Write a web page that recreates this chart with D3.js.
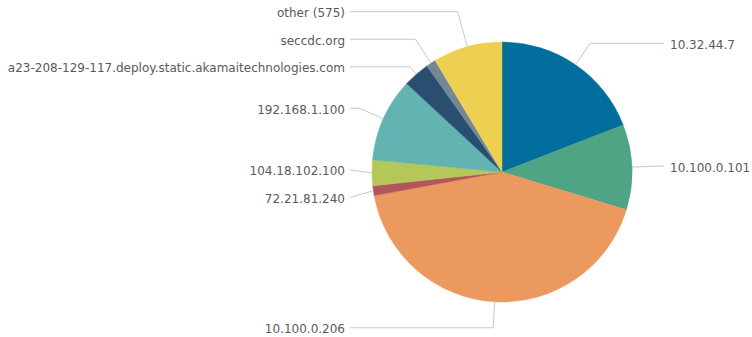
<!DOCTYPE html>
<html>
<head>
<meta charset="utf-8">
<script src="https://cdn.jsdelivr.net/npm/d3@7/dist/d3.min.js"></script>
<style>
  html, body { margin: 0; padding: 0; background: #fff; }
  svg { display: block; }
  .lbl { font-family: "DejaVu Sans", sans-serif; font-size: 12px; fill: #5a5a5a; }
  .conn { fill: none; stroke: #c8c8c8; stroke-width: 1; }
</style>
</head>
<body>
<svg id="chart" width="752" height="337"></svg>
<script>
// Share of traffic by host (percent)
const hosts = [
  "10.32.44.7",
  "10.100.0.101",
  "10.100.0.206",
  "72.21.81.240",
  "104.18.102.100",
  "192.168.1.100",
  "a23-208-129-117.deploy.static.akamaitechnologies.com",
  "seccdc.org",
  "other (575)"
];
const shares = [19.1, 10.6, 42.4, 1.2, 3.2, 10.4, 3.3, 1.2, 8.6];
const palette = ["#006d9c", "#4fa484", "#ec9960", "#af575a", "#b6c75a",
                 "#62b3b2", "#294e70", "#738795", "#edd051"];

const W = 752, H = 337;
const cx = 502, cy = 172, R = 130;
const labelR = 156;        // radius used for a label's natural height
const minGap = 27.5;       // vertical room needed per label
const leftTextX = cx - 157, leftLineX = leftTextX + 5;
const rightTextX = cx + 168, rightLineX = rightTextX - 6;

const svg = d3.select("#chart");
const rows = hosts.map((h, i) => ({ host: h, value: shares[i], color: palette[i] }));

const pie = d3.pie().value(d => d.value).sort(null).startAngle(0).endAngle(2 * Math.PI);
const arcs = pie(rows);
const arcGen = d3.arc().innerRadius(0).outerRadius(R);

const g = svg.append("g").attr("transform", `translate(${cx},${cy})`);
g.selectAll("path.slice").data(arcs).join("path")
  .attr("class", "slice")
  .attr("d", arcGen)
  .attr("fill", d => d.data.color)
  .attr("stroke", d => d.data.color)
  .attr("stroke-width", 0.5);

// Label layout: natural height from the slice's mid angle, then spread out overlapping ones
const items = arcs.map(a => {
  const mid = (a.startAngle + a.endAngle) / 2;
  return {
    arc: a, mid,
    side: mid < Math.PI ? "right" : "left",
    natural: cy - Math.cos(mid) * labelR,
    edge: [cx + Math.sin(mid) * R, cy - Math.cos(mid) * R]
  };
});

function spread(list) {
  list.sort((a, b) => a.natural - b.natural);
  let clusters = list.map(d => ({ members: [d], center: d.natural }));
  let changed = true;
  const place = c => {
    const n = c.members.length;
    c.members.forEach((m, i) => m.y = c.center + (i - (n - 1) / 2) * minGap);
  };
  while (changed) {
    changed = false;
    clusters.forEach(place);
    for (let i = 0; i < clusters.length - 1; i++) {
      const a = clusters[i], b = clusters[i + 1];
      const aLast = a.members[a.members.length - 1], bFirst = b.members[0];
      if (bFirst.y - aLast.y < minGap) {
        const members = a.members.concat(b.members);
        const center = d3.mean(members, m => m.natural);
        clusters.splice(i, 2, { members, center });
        changed = true;
        break;
      }
    }
  }
  clusters.forEach(place);
}
spread(items.filter(d => d.side === "left"));
spread(items.filter(d => d.side === "right"));

// Connectors: horizontal run from the label, then toward the slice edge
items.forEach(d => {
  const lx = d.side === "left" ? leftLineX : rightLineX;
  const c = Math.cos(d.mid);
  let pts = [[lx, d.y]];
  if (Math.abs(c) > 1e-3) {
    const t = (cy - d.y) / c;
    const bx = cx + Math.sin(d.mid) * t;
    const inside = d.side === "left" ? bx > lx : bx < lx;
    if (t > R && inside) pts.push([bx, d.y]);
  }
  pts.push(d.edge);
  d.path = pts;
});

svg.append("g").selectAll("path.conn").data(items).join("path")
  .attr("class", "conn")
  .attr("d", d => d3.line()(d.path));

svg.append("g").selectAll("text.lbl").data(items).join("text")
  .attr("class", "lbl")
  .attr("x", d => d.side === "left" ? leftTextX : rightTextX)
  .attr("y", d => d.y + 5.5)
  .attr("text-anchor", d => d.side === "left" ? "end" : "start")
  .text(d => d.arc.data.host);
</script>
</body>
</html>
